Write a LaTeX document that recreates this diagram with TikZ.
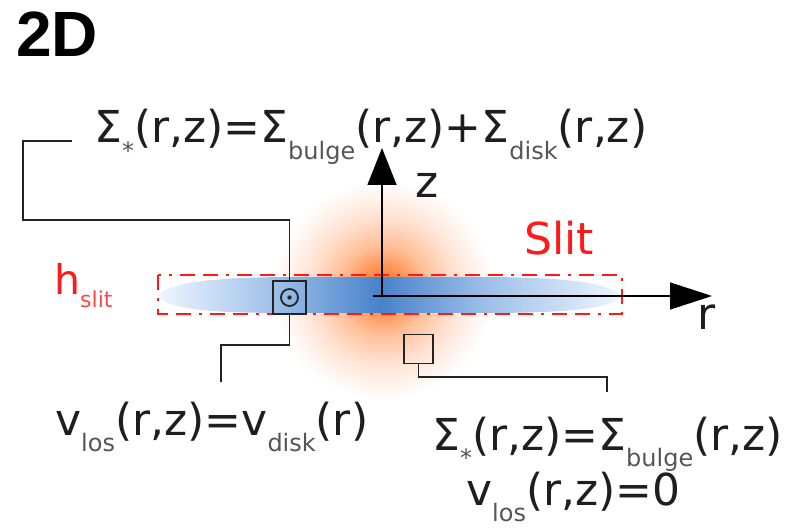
\documentclass[tikz,border=0pt]{standalone}
\usepackage{fontspec}
\setmainfont{DejaVu Sans}
\newfontfamily\titlefont{Liberation Sans}
\usetikzlibrary{arrows.meta}
\definecolor{txt}{RGB}{30,30,30}
\definecolor{subc}{RGB}{85,85,85}
\definecolor{slitred}{RGB}{255,25,25}
\definecolor{leadc}{RGB}{35,35,35}
\definecolor{bulgeA}{RGB}{255,105,15}
\definecolor{bulgeB}{RGB}{255,145,80}
\definecolor{bulgeC}{RGB}{255,190,150}
\definecolor{bulgeD}{RGB}{255,223,205}
\definecolor{bulgeE}{RGB}{255,242,235}
\definecolor{diskC}{RGB}{72,130,202}
\definecolor{diskM}{RGB}{155,190,232}
\definecolor{diskE}{RGB}{238,246,255}
\pgfdeclareradialshading{bulgeshade}{\pgfpoint{0bp}{0bp}}{color(0bp)=(bulgeA); color(5bp)=(bulgeB); color(10bp)=(bulgeC); color(16bp)=(bulgeD); color(21bp)=(bulgeE); color(25bp)=(white); color(50bp)=(white)}
\pgfdeclarehorizontalshading{diskshade}{100bp}{color(0bp)=(white); color(25bp)=(diskE); color(38bp)=(diskM); color(49bp)=(diskC); color(60bp)=(diskM); color(75bp)=(diskE); color(100bp)=(white)}
\newcommand\mysub[1]{\raisebox{-0.38em}{\fontsize{24}{26}\selectfont\color{subc}#1}}
\tikzset{
  eq/.style={anchor=base west, inner sep=0, text=txt, font=\fontsize{44}{50}\selectfont},
  lead/.style={draw=leadc, line width=1.3},
  slitbox/.style={draw=slitred, line width=1.4, dash pattern=on 15pt off 8pt on 3pt off 8pt on 15pt off 8pt},
  axis/.style={line width=1.5, black}
}
\begin{document}
\begin{tikzpicture}[x=1pt,y=-1pt]
\useasboundingbox (0,0) rectangle (790,529);
% bulge
\shade[shading=bulgeshade] (383,290) circle (110);
% disk
\shade[shading=diskshade] (158,296) .. controls (170,280) and (230,277) .. (300,277) -- (480,277)
  .. controls (560,277) and (610,282) .. (622,296) .. controls (610,310) and (560,313) .. (480,313)
  -- (300,313) .. controls (230,313) and (170,312) .. (158,296) -- cycle;
% slit
\draw[slitbox] (158,275) rectangle (622,314);
% axes
\coordinate (o) at (382,296);
\coordinate (ztip) at (382,148);
\coordinate (rstart) at (373,296);
\coordinate (rtip) at (712,296);
\draw[axis, -{Triangle[width=29,length=37]}] (o) -- (ztip);
\draw[axis, -{Triangle[width=27,length=42]}] (rstart) -- (rtip);
% pixel boxes
\node[draw=leadc, line width=1.3, minimum size=33, inner sep=0] (pbox) at (289.5,297.5) {};
\draw[leadc, line width=1.8] (pbox.center) circle (8.5);
\fill[leadc] (pbox.center) circle (2.2);
\node[draw=leadc, line width=1.3, minimum size=29, inner sep=0] (qbox) at (418.5,349) {};
% texts
\node[anchor=base west, inner sep=0, text=black, font=\titlefont\bfseries\fontsize{64}{66}\selectfont] (title) at (16,57) {2D};
\node[eq] (sigtop) at (94,143) {Σ\mysub{*}(r,z)=Σ\mysub{bulge}(r,z)+Σ\mysub{disk}(r,z)};
\node[eq] (vleft) at (55,435) {v\mysub{los}(r,z)=v\mysub{disk}(r)};
\node[eq] (sigbot) at (432,450) {Σ\mysub{*}(r,z)=Σ\mysub{bulge}(r,z)};
\node[eq] (vbot) at (466,505) {v\mysub{los}(r,z)=0};
\node[eq] (zlab) at (415,198) {z};
\node[eq] (rlab) at (697,330) {r};
\node[eq, text=slitred] (slitlab) at (524,255) {Slit};
\node[anchor=base west, inner sep=0, text=slitred, font=\fontsize{41}{46}\selectfont] (hlab) at (54,295) {h\raisebox{-13pt}{\fontsize{22}{24}\selectfont\color{slitred!80}slit}};
% leaders
\coordinate (t1) at (72,141);
\coordinate (t2) at (23,141);
\coordinate (t3) at (23,220);
\draw[lead] (t1) -- (t2) -- (t3) -- (t3 -| pbox.north) -- (pbox.north);
\coordinate (b1) at (221,345);
\coordinate (b2) at (221,382);
\draw[lead] (pbox.south) -- (pbox.south |- b1) -- (b1) -- (b2);
\coordinate (c1) at (607,377);
\coordinate (c2) at (607,392);
\draw[lead] (qbox.south) -- (qbox.south |- c1) -- (c1) -- (c2);
\end{tikzpicture}
\end{document}
